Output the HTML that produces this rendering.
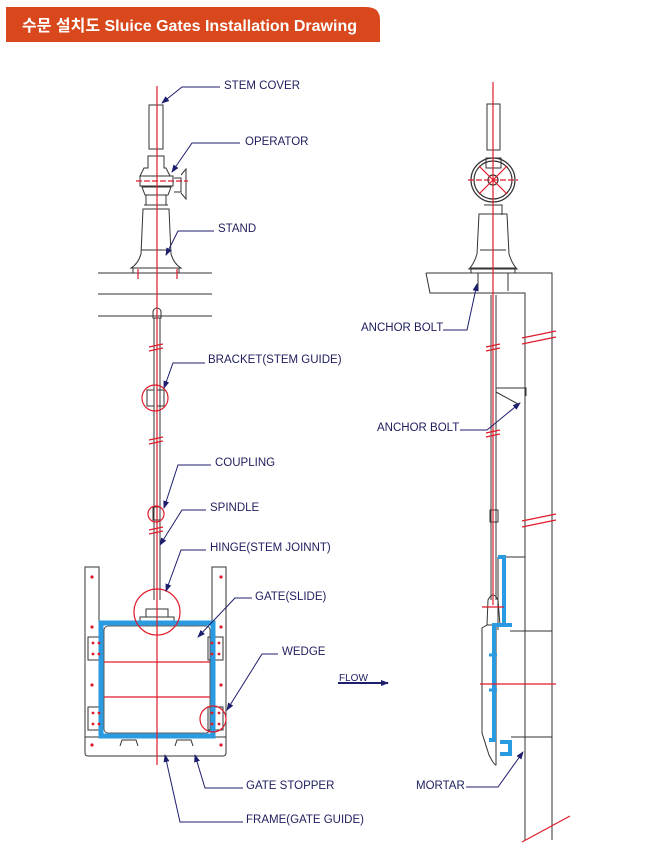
<!DOCTYPE html>
<html><head><meta charset="utf-8"><style>
html,body{margin:0;padding:0;background:#fff;width:647px;height:854px;overflow:hidden}
svg{display:block}
text{font-family:"Liberation Sans","Noto Sans CJK KR",sans-serif;font-size:11.5px;fill:#1e1e5e}
</style></head><body>
<svg width="647" height="854" viewBox="0 0 647 854" xmlns="http://www.w3.org/2000/svg">
<defs><marker id="a" markerWidth="8" markerHeight="8" refX="7" refY="4" orient="auto" markerUnits="userSpaceOnUse"><path d="M0,1 L8,4 L0,7z" fill="#1e1e6e"/></marker></defs>
<!-- header -->
<path d="M6,7 H366 Q380,7 380,20 V42 H6 Z" fill="#d8481c"/>
<text x="22" y="31" style="font-size:16px;font-weight:bold;fill:#fff">수문 설치도  Sluice Gates Installation Drawing</text>

<g fill="none" stroke="#333" stroke-width="1">
<rect x="149" y="105" width="14" height="44"/>
<path d="M148,156 h16 v12 h2 l4,8 h-30 l4,-8 h4z"/>
<rect x="140" y="176" width="33" height="10"/>
<path d="M142,187 h29 l-3,8 h-23z"/>
<path d="M146,195 v10 h20 v-10 M144,205 h24 M143,209 h26 l2,45 q3,10 10,14 h-50 q7,-4 10,-14z M141,250 h30"/>
<rect x="133" y="268" width="46" height="5"/>
<path d="M174,178 h7 v14 h-7 M181,175 l5,-6 v30 l-5,-6"/>
<line x1="98" y1="273" x2="212" y2="273"/>
<line x1="98" y1="294" x2="212" y2="294"/>
<line x1="98" y1="316" x2="212" y2="316"/>
<path d="M153,312 a4,4 0 1 1 8,0 v6 h-8z"/>
<line x1="154" y1="318" x2="154" y2="600"/><line x1="160" y1="318" x2="160" y2="600"/>
<rect x="147" y="390" width="7" height="16"/><rect x="157" y="390" width="7" height="16"/>
<rect x="153" y="507" width="7" height="13"/>
<path d="M85,567 h14 v170 h-14z M212,567 h14 v170 h-14z"/>
<path d="M85,737 h141 v16 q0,3 -3,3 h-135 q-3,0 -3,-3z"/>
<path d="M120,746 l2,-6 h14 l2,6 M175,746 l2,-6 h14 l2,6"/>
<rect x="88" y="637" width="15" height="23"/><rect x="88" y="707" width="15" height="23"/>
<rect x="208" y="637" width="15" height="23"/><rect x="208" y="707" width="15" height="23"/>
<path d="M140,617 h34 v8 h-34z M146,617 v-8 h22 v8"/>
</g>
<rect x="101" y="623" width="112" height="113" fill="none" stroke="#2a9be0" stroke-width="5"/>
<rect x="104" y="626" width="106" height="107" fill="none" stroke="#333" stroke-width="0.8" rx="4"/>
<g stroke="#e01a2a" stroke-width="1.2" fill="none">
<line x1="157" y1="86" x2="157" y2="765"/>
<line x1="104" y1="662" x2="210" y2="662"/><line x1="104" y1="697" x2="210" y2="697"/>
<line x1="136" y1="181" x2="188" y2="181" stroke-dasharray="6,2"/>
<circle cx="155" cy="398" r="13"/><circle cx="156" cy="514" r="8"/>
<circle cx="157" cy="612" r="23"/><circle cx="213" cy="719" r="13"/>
<path d="M149,347 l14,-3 M149,351 l14,-3 M149,440 l14,-3 M149,444 l14,-3 M149,530 l14,-3 M149,534 l14,-3"/>
<path d="M138,269 v10 M177,269 v10"/>
</g>
<g fill="#e01a2a">
<circle cx="92" cy="577" r="1.6"/><circle cx="92" cy="627" r="1.6"/><circle cx="92" cy="685" r="1.6"/><circle cx="92" cy="745" r="1.6"/>
<circle cx="221" cy="577" r="1.6"/><circle cx="221" cy="627" r="1.6"/><circle cx="221" cy="685" r="1.6"/><circle cx="221" cy="745" r="1.6"/>
<circle cx="93" cy="643" r="1.4"/><circle cx="99" cy="643" r="1.4"/><circle cx="93" cy="654" r="1.4"/><circle cx="99" cy="654" r="1.4"/>
<circle cx="93" cy="713" r="1.4"/><circle cx="99" cy="713" r="1.4"/><circle cx="93" cy="724" r="1.4"/><circle cx="99" cy="724" r="1.4"/>
<circle cx="212" cy="643" r="1.4"/><circle cx="219" cy="643" r="1.4"/><circle cx="212" cy="654" r="1.4"/><circle cx="219" cy="654" r="1.4"/>
<circle cx="212" cy="713" r="1.4"/><circle cx="219" cy="713" r="1.4"/><circle cx="212" cy="724" r="1.4"/><circle cx="219" cy="724" r="1.4"/>
</g>

<g fill="none" stroke="#333" stroke-width="1">
<rect x="487" y="104" width="13" height="46"/>
<path d="M486,158 h15 v10 h-15z"/>
<path d="M484,205 h18 v10 M479,214 h28 l2,40 q3,10 8,15 h-48 q5,-5 8,-15z M480,250 h26"/>
<rect x="471" y="268" width="44" height="5"/>
<path d="M426,273 H552 V840 M426,273 l4,20 H525 V840"/>
<path d="M498,557 H525 M498,557 V630 M510,631 H552 M511,737 H552"/>
<line x1="491" y1="295" x2="491" y2="600"/><line x1="496" y1="295" x2="496" y2="600"/>
<path d="M488,600 q5,-10 10,0 l2,25 h-13z"/>
<path d="M487,625 h9 v140 q-2,0 -7,-10 l-7,-22 v-105 z"/>
<path d="M478,273 v18 M508,273 v18 M496,388 h30 v8 M496,392 l22,12"/>
<rect x="490" y="510" width="8" height="12"/>
</g>
<path d="M498,557 h6 v68 h-10 v115 h-5" fill="none" stroke="#2a9be0" stroke-width="4"/>
<path d="M504,625 h8 M500,742 h10 v12 h-10" fill="none" stroke="#2a9be0" stroke-width="4"/>
<path d="M489,655 h8 M489,690 h8" stroke="#2a9be0" stroke-width="3"/>
<g fill="none" stroke="#333" stroke-width="1.2"><circle cx="493" cy="180" r="22"/><circle cx="493" cy="180" r="19"/><circle cx="493" cy="180" r="5"/></g>
<g stroke="#e01a2a" stroke-width="1.2" fill="none">
<line x1="493" y1="82" x2="493" y2="605"/>
<line x1="468" y1="180" x2="518" y2="180" stroke-dasharray="6,2"/>
<path d="M479,166 L507,194 M507,166 L479,194"/>
<line x1="480" y1="684" x2="556" y2="684"/>
<path d="M522,338 l34,-7 M522,344 l34,-7 M522,521 l34,-7 M522,527 l34,-7 M522,842 l48,-26"/>
<path d="M486,347 l14,-3 M486,351 l14,-3 M486,433 l14,-3 M486,437 l14,-3"/>
<path d="M482,607 h22"/>
</g>

<g fill="none" stroke="#1e1e6e" stroke-width="1">
<path d="M220,87 H182 L162,103" marker-end="url(#a)"/>
<path d="M240,143 H192 L172,172" marker-end="url(#a)"/>
<path d="M214,231 H178 L166,255" marker-end="url(#a)"/>
<path d="M205,363 H173 L164,388" marker-end="url(#a)"/>
<path d="M211,465 H178 L164,508" marker-end="url(#a)"/>
<path d="M206,510 H182 L160,545" marker-end="url(#a)"/>
<path d="M206,550 H181 L166,591" marker-end="url(#a)"/>
<path d="M252,598 H235 L198,637" marker-end="url(#a)"/>
<path d="M278,654 H262 L227,710" marker-end="url(#a)"/>
<path d="M243,788 H205 L195,755" marker-end="url(#a)"/>
<path d="M243,822 H180 L165,755" marker-end="url(#a)"/>
<path d="M443,330 H467 L477,284" marker-end="url(#a)"/>
<path d="M460,430 H487 L520,403" marker-end="url(#a)"/>
<path d="M466,787 H498 L523,752" marker-end="url(#a)"/>
<path d="M338,683 H388" stroke-width="2" marker-end="url(#a)"/>
</g>
<text x="224" y="89">STEM COVER</text>
<text x="245" y="145">OPERATOR</text>
<text x="218" y="232">STAND</text>
<text x="208" y="363">BRACKET(STEM GUIDE)</text>
<text x="215" y="466">COUPLING</text>
<text x="210" y="511">SPINDLE</text>
<text x="210" y="551">HINGE(STEM JOINNT)</text>
<text x="255" y="600">GATE(SLIDE)</text>
<text x="282" y="655">WEDGE</text>
<text x="339" y="681" style="font-size:10px">FLOW</text>
<text x="246" y="789">GATE STOPPER</text>
<text x="246" y="823">FRAME(GATE GUIDE)</text>
<text x="361" y="331">ANCHOR BOLT</text>
<text x="377" y="431">ANCHOR BOLT</text>
<text x="416" y="789">MORTAR</text>
</svg>
</body></html>
